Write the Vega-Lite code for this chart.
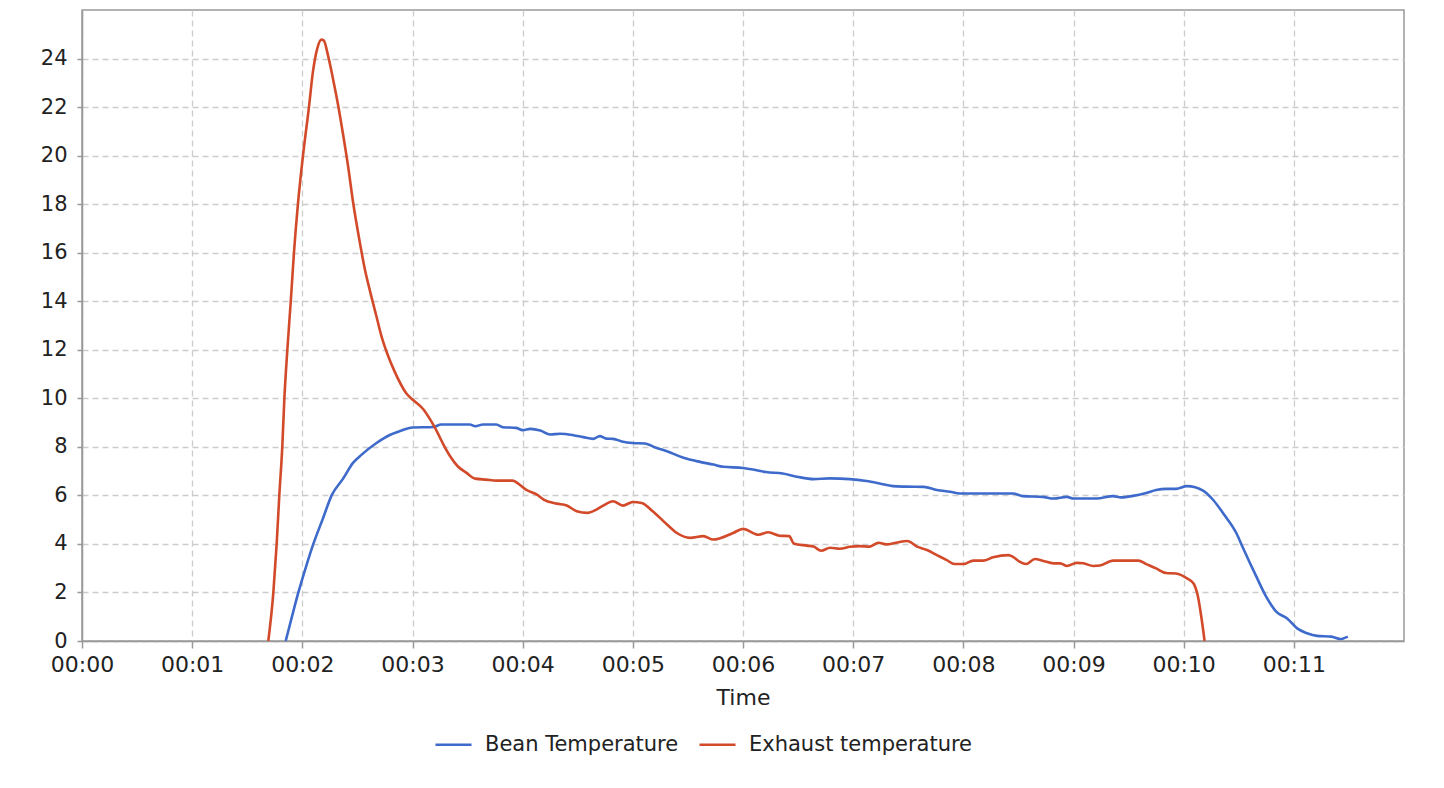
{
  "$schema": "https://vega.github.io/schema/vega-lite/v6.json",
  "autosize": {"type": "none"},
  "width": 1322,
  "height": 631,
  "padding": {"left": 82, "top": 10, "right": 40, "bottom": 147},
  "background": "white",
  "config": {
    "font": "DejaVu Sans",
    "view": {"stroke": "#999999", "strokeWidth": 1.5}
  },
  "datasets": {
    "bean": [
      {"t":1.849,"v":0},{"t":1.9,"v":0.9},{"t":1.964,"v":2.0},{"t":2.036,"v":3.1},{"t":2.1,"v":4.0},{"t":2.188,"v":5.06},{"t":2.266,"v":6.0},{"t":2.37,"v":6.69},{"t":2.46,"v":7.34},{"t":2.536,"v":7.67},{"t":2.673,"v":8.16},{"t":2.794,"v":8.49},{"t":2.885,"v":8.65},{"t":3.0,"v":8.8},{"t":3.19,"v":8.82},{"t":3.26,"v":8.92},{"t":3.52,"v":8.92},{"t":3.57,"v":8.85},{"t":3.64,"v":8.92},{"t":3.76,"v":8.92},{"t":3.82,"v":8.81},{"t":3.94,"v":8.78},{"t":4.0,"v":8.69},{"t":4.07,"v":8.74},{"t":4.16,"v":8.67},{"t":4.25,"v":8.51},{"t":4.34,"v":8.54},{"t":4.46,"v":8.48},{"t":4.55,"v":8.4},{"t":4.64,"v":8.33},{"t":4.7,"v":8.44},{"t":4.76,"v":8.34},{"t":4.82,"v":8.33},{"t":4.91,"v":8.21},{"t":5.0,"v":8.16},{"t":5.11,"v":8.14},{"t":5.21,"v":7.96},{"t":5.31,"v":7.82},{"t":5.46,"v":7.55},{"t":5.61,"v":7.38},{"t":5.73,"v":7.27},{"t":5.82,"v":7.18},{"t":6.0,"v":7.13},{"t":6.09,"v":7.07},{"t":6.21,"v":6.96},{"t":6.36,"v":6.9},{"t":6.49,"v":6.77},{"t":6.64,"v":6.67},{"t":6.79,"v":6.7},{"t":6.97,"v":6.67},{"t":7.12,"v":6.59},{"t":7.24,"v":6.49},{"t":7.36,"v":6.38},{"t":7.48,"v":6.36},{"t":7.64,"v":6.35},{"t":7.76,"v":6.22},{"t":7.88,"v":6.15},{"t":7.97,"v":6.08},{"t":8.15,"v":6.08},{"t":8.45,"v":6.08},{"t":8.54,"v":5.97},{"t":8.72,"v":5.94},{"t":8.82,"v":5.87},{"t":8.94,"v":5.94},{"t":9.0,"v":5.87},{"t":9.21,"v":5.87},{"t":9.36,"v":5.97},{"t":9.43,"v":5.92},{"t":9.54,"v":5.98},{"t":9.66,"v":6.1},{"t":9.75,"v":6.22},{"t":9.84,"v":6.27},{"t":9.93,"v":6.27},{"t":10.03,"v":6.38},{"t":10.18,"v":6.19},{"t":10.27,"v":5.8},{"t":10.37,"v":5.19},{"t":10.48,"v":4.43},{"t":10.54,"v":3.82},{"t":10.66,"v":2.65},{"t":10.75,"v":1.82},{"t":10.84,"v":1.21},{"t":10.94,"v":0.93},{"t":11.03,"v":0.52},{"t":11.12,"v":0.32},{"t":11.21,"v":0.21},{"t":11.34,"v":0.18},{"t":11.42,"v":0.08},{"t":11.49,"v":0.18}
    ],
    "exhaust": [
      {"t":1.691,"v":0},{"t":1.737,"v":2.0},{"t":1.767,"v":4.0},{"t":1.791,"v":6.0},{"t":1.818,"v":8.0},{"t":1.837,"v":10.0},{"t":1.864,"v":12.0},{"t":1.895,"v":14.0},{"t":1.924,"v":16.0},{"t":1.96,"v":18.0},{"t":2.006,"v":20.0},{"t":2.06,"v":22.0},{"t":2.097,"v":23.48},{"t":2.133,"v":24.37},{"t":2.173,"v":24.78},{"t":2.194,"v":24.75},{"t":2.233,"v":24.13},{"t":2.279,"v":23.15},{"t":2.324,"v":22.1},{"t":2.37,"v":20.87},{"t":2.415,"v":19.57},{"t":2.46,"v":18.1},{"t":2.52,"v":16.47},{"t":2.567,"v":15.33},{"t":2.61,"v":14.5},{"t":2.673,"v":13.37},{"t":2.718,"v":12.56},{"t":2.779,"v":11.74},{"t":2.839,"v":11.09},{"t":2.945,"v":10.2},{"t":3.0,"v":9.95},{"t":3.1,"v":9.54},{"t":3.16,"v":9.13},{"t":3.22,"v":8.65},{"t":3.28,"v":8.1},{"t":3.34,"v":7.62},{"t":3.41,"v":7.2},{"t":3.49,"v":6.93},{"t":3.57,"v":6.69},{"t":3.67,"v":6.65},{"t":3.76,"v":6.61},{"t":3.91,"v":6.61},{"t":3.97,"v":6.45},{"t":4.03,"v":6.24},{"t":4.13,"v":6.03},{"t":4.19,"v":5.83},{"t":4.31,"v":5.66},{"t":4.4,"v":5.58},{"t":4.49,"v":5.35},{"t":4.59,"v":5.28},{"t":4.64,"v":5.35},{"t":4.73,"v":5.58},{"t":4.82,"v":5.76},{"t":4.91,"v":5.58},{"t":5.0,"v":5.73},{"t":5.08,"v":5.69},{"t":5.18,"v":5.35},{"t":5.31,"v":4.8},{"t":5.4,"v":4.45},{"t":5.52,"v":4.25},{"t":5.64,"v":4.32},{"t":5.73,"v":4.18},{"t":5.91,"v":4.45},{"t":6.0,"v":4.62},{"t":6.14,"v":4.38},{"t":6.23,"v":4.48},{"t":6.33,"v":4.34},{"t":6.42,"v":4.32},{"t":6.46,"v":4.02},{"t":6.58,"v":3.93},{"t":6.64,"v":3.89},{"t":6.71,"v":3.72},{"t":6.79,"v":3.84},{"t":6.88,"v":3.8},{"t":6.97,"v":3.88},{"t":7.06,"v":3.91},{"t":7.15,"v":3.89},{"t":7.23,"v":4.05},{"t":7.3,"v":3.98},{"t":7.39,"v":4.05},{"t":7.49,"v":4.12},{"t":7.58,"v":3.89},{"t":7.67,"v":3.75},{"t":7.76,"v":3.54},{"t":7.85,"v":3.33},{"t":7.92,"v":3.17},{"t":8.0,"v":3.17},{"t":8.09,"v":3.31},{"t":8.18,"v":3.31},{"t":8.27,"v":3.45},{"t":8.41,"v":3.54},{"t":8.45,"v":3.47},{"t":8.51,"v":3.27},{"t":8.57,"v":3.17},{"t":8.65,"v":3.38},{"t":8.72,"v":3.31},{"t":8.82,"v":3.2},{"t":8.88,"v":3.2},{"t":8.94,"v":3.09},{"t":9.03,"v":3.22},{"t":9.09,"v":3.2},{"t":9.18,"v":3.09},{"t":9.24,"v":3.11},{"t":9.36,"v":3.31},{"t":9.59,"v":3.31},{"t":9.66,"v":3.17},{"t":9.75,"v":2.99},{"t":9.84,"v":2.8},{"t":9.93,"v":2.78},{"t":10.03,"v":2.58},{"t":10.09,"v":2.37},{"t":10.13,"v":1.82},{"t":10.16,"v":1.0},{"t":10.19,"v":0.0}
    ]
  },
  "layer": [
    {
      "data": {"name": "bean"},
      "transform": [{"calculate": "'Bean Temperature'", "as": "series"}],
      "mark": {"type": "line", "strokeWidth": 2.6, "interpolate": "monotone"},
      "encoding": {
        "x": {"field": "t", "type": "quantitative"},
        "y": {"field": "v", "type": "quantitative"},
        "color": {"field": "series", "type": "nominal"}
      }
    },
    {
      "data": {"name": "exhaust"},
      "transform": [{"calculate": "'Exhaust temperature'", "as": "series"}],
      "mark": {"type": "line", "strokeWidth": 2.6, "interpolate": "monotone"},
      "encoding": {
        "x": {"field": "t", "type": "quantitative"},
        "y": {"field": "v", "type": "quantitative"},
        "color": {"field": "series", "type": "nominal"}
      }
    }
  ],
  "resolve": {"scale": {"color": "shared"}},
  "encoding": {
    "x": {
      "field": "t", "type": "quantitative",
      "scale": {"domain": [0, 12], "nice": false, "zero": true},
      "axis": {
        "title": "Time",
        "values": [0,1,2,3,4,5,6,7,8,9,10,11],
        "labelExpr": "'00:' + (datum.value < 10 ? '0' : '') + datum.value",
        "labelFlush": false,
        "labelFontSize": 22, "labelColor": "#222222", "labelPadding": 6,
        "titleFontSize": 22, "titleFontWeight": "normal", "titleColor": "#222222", "titlePadding": 12,
        "domainColor": "#999999", "domainWidth": 1.5,
        "tickColor": "#999999", "tickSize": 7, "tickWidth": 1.5,
        "grid": true, "gridColor": "#cccccc", "gridDash": [6, 4], "gridWidth": 1.3
      }
    },
    "y": {
      "field": "v", "type": "quantitative",
      "scale": {"domain": [0, 26], "nice": false},
      "axis": {
        "title": null,
        "values": [0,2,4,6,8,10,12,14,16,18,20,22,24],
        "labelFlush": false,
        "labelFontSize": 21, "labelColor": "#222222", "labelPadding": 10,
        "domainColor": "#999999", "domainWidth": 1.5,
        "tickColor": "#999999", "tickSize": 5, "tickWidth": 1.5,
        "grid": true, "gridColor": "#cccccc", "gridDash": [6, 4], "gridWidth": 1.3
      }
    },
    "color": {
      "field": "series", "type": "nominal",
      "scale": {"domain": ["Bean Temperature", "Exhaust temperature"], "range": ["#3e6bcb", "#d24a2a"]},
      "legend": {
        "title": null, "orient": "none", "legendX": 352, "legendY": 715, "direction": "horizontal",
        "padding": 0,
        "symbolType": "stroke", "symbolSize": 1300, "symbolStrokeWidth": 2.6,
        "labelFontSize": 21, "labelColor": "#222222", "labelLimit": 500, "labelOffset": 12, "columnPadding": 15
      }
    }
  }
}
